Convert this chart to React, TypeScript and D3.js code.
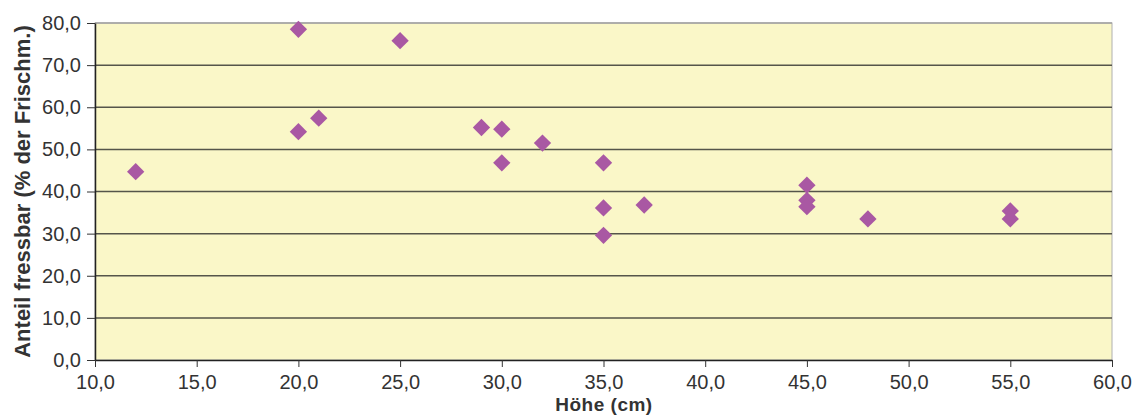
import * as d3 from 'd3';
import { useEffect, useRef } from 'react';

// Höhe (cm) and share edible (% of fresh mass)
const heights = [12, 20, 20, 21, 25, 29, 30, 30, 32, 35, 35, 35, 37, 45, 45, 45, 48, 55, 55];
const shares = [44.7, 78.5, 54.2, 57.4, 75.8, 55.2, 54.8, 46.8, 51.5, 46.8, 36.1, 29.6, 36.8, 41.5, 37.9, 36.4, 33.5, 35.4, 33.5];
const xTicks = [10, 15, 20, 25, 30, 35, 40, 45, 50, 55, 60];
const yTicks = [0, 10, 20, 30, 40, 50, 60, 70, 80];

const W = 1135;
const H = 415;
const margin = { top: 23, right: 23, bottom: 55, left: 95 };

const fmt = (v: number) => v.toFixed(1).replace('.', ',');

export default function App() {
  const ref = useRef<SVGSVGElement>(null);

  useEffect(() => {
    const svg = d3.select(ref.current);
    svg.selectAll('*').remove();

    const x = d3.scaleLinear().domain([10, 60]).range([margin.left, W - margin.right]);
    const y = d3.scaleLinear().domain([0, 80]).range([H - margin.bottom, margin.top]);

    svg
      .append('rect')
      .attr('x', x(10))
      .attr('y', y(80))
      .attr('width', x(60) - x(10))
      .attr('height', y(0) - y(80))
      .attr('fill', '#faf7c8')
      .attr('stroke', '#b0b0b0')
      .attr('stroke-width', 1);

    // grid
    svg
      .append('g')
      .selectAll('line')
      .data(yTicks.filter((t) => t > 0))
      .enter()
      .append('line')
      .attr('x1', x(10))
      .attr('x2', x(60))
      .attr('y1', (d) => y(d))
      .attr('y2', (d) => y(d))
      .attr('stroke', (d) => (d === 80 ? '#a0a0a0' : '#55554a'))
      .attr('stroke-width', 1.5);

    const font = 'Liberation Sans, Arial, sans-serif';

    const yAxis = svg
      .append('g')
      .attr('transform', `translate(${x(10)},0)`)
      .call(d3.axisLeft(y).tickValues(yTicks).tickFormat((d) => fmt(d as number)).tickSize(8).tickSizeOuter(0));
    yAxis.select('.domain').attr('stroke', '#222').attr('stroke-width', 1.5);
    yAxis.selectAll('.tick line').attr('stroke', '#333');
    yAxis
      .selectAll('text')
      .attr('font-family', font)
      .attr('font-size', 20)
      .attr('fill', '#333')
      .attr('x', -14);

    const xAxis = svg
      .append('g')
      .attr('transform', `translate(0,${y(0)})`)
      .call(d3.axisBottom(x).tickValues(xTicks).tickFormat((d) => fmt(d as number)).tickSize(7).tickSizeOuter(0));
    xAxis.select('.domain').attr('stroke', '#222').attr('stroke-width', 1.5);
    xAxis.selectAll('.tick line').attr('stroke', '#333');
    xAxis
      .selectAll('text')
      .attr('font-family', font)
      .attr('font-size', 20)
      .attr('fill', '#333')
      .attr('y', 15);

    const points = heights.map((h, i) => ({ h, s: shares[i] }));
    const diamond = d3.symbol().type(d3.symbolSquare).size(150);
    svg
      .append('g')
      .selectAll('path')
      .data(points)
      .enter()
      .append('path')
      .attr('d', diamond)
      .attr('transform', (d) => `translate(${x(d.h)},${y(d.s)}) rotate(45)`)
      .attr('fill', '#a958a3');

    svg
      .append('text')
      .attr('x', 604)
      .attr('y', 411)
      .attr('text-anchor', 'middle')
      .attr('font-family', font)
      .attr('font-weight', 'bold')
      .attr('font-size', 19)
      .attr('letter-spacing', 0.5)
      .attr('fill', '#333')
      .text('Höhe (cm)');

    svg
      .append('text')
      .attr('transform', `translate(29.5,191.5) rotate(-90)`)
      .attr('text-anchor', 'middle')
      .attr('font-family', font)
      .attr('font-weight', 'bold')
      .attr('font-size', 22)
      .attr('fill', '#333')
      .text('Anteil fressbar (% der Frischm.)');
  }, []);

  return <svg ref={ref} width={W} height={H} style={{ position: 'absolute', left: 0, top: 0 }} />;
}
